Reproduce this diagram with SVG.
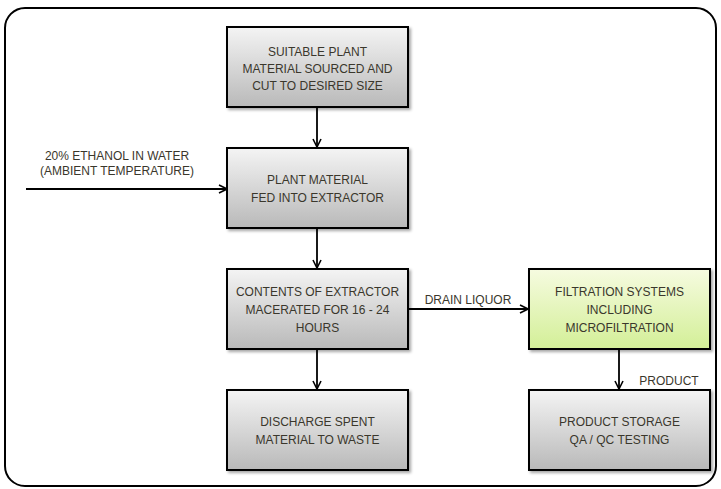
<svg xmlns="http://www.w3.org/2000/svg" width="721" height="489" viewBox="0 0 721 489">
<defs>
<linearGradient id="grey" x1="0" y1="0" x2="0" y2="1">
<stop offset="0" stop-color="#f4f4f4"/>
<stop offset="1" stop-color="#b9b9b9"/>
</linearGradient>
<linearGradient id="green" x1="0" y1="0" x2="0" y2="1">
<stop offset="0" stop-color="#f6fbe0"/>
<stop offset="1" stop-color="#d3ef97"/>
</linearGradient>
<marker id="arr" viewBox="0 0 10 10" refX="9" refY="5" markerWidth="10" markerHeight="10" markerUnits="userSpaceOnUse" orient="auto">
<path d="M1,1 L9,5 L1,9" fill="none" stroke="#000" stroke-width="1.6"/>
</marker>
<filter id="sh" x="-10%" y="-10%" width="130%" height="130%">
<feDropShadow dx="2" dy="2" stdDeviation="1.5" flood-color="#000" flood-opacity="0.35"/>
</filter>
</defs>
<style>
.box{stroke:#000;stroke-width:2;filter:url(#sh)}
.t{font-family:"Liberation Sans",Arial,sans-serif;font-size:12px;fill:#3a372c;text-anchor:middle}
.c{stroke:#000;stroke-width:1.8;fill:none;marker-end:url(#arr)}
</style>
<rect x="5" y="8" width="711" height="478" rx="20" fill="#fff" stroke="#000" stroke-width="2"/>
<g id="connectors">
<line class="c" x1="317" y1="107" x2="317" y2="147"/>
<line class="c" x1="26" y1="189" x2="227" y2="189"/>
<line class="c" x1="317" y1="228" x2="317" y2="268"/>
<line class="c" x1="408" y1="309" x2="528" y2="309"/>
<line class="c" x1="317" y1="349" x2="317" y2="389"/>
<line class="c" x1="619" y1="349" x2="619" y2="389"/>
<text class="t" x="117" y="160">20% ETHANOL IN WATER</text>
<text class="t" x="117" y="175">(AMBIENT TEMPERATURE)</text>
<text class="t" x="468" y="304">DRAIN LIQUOR</text>
<text class="t" x="669" y="385">PRODUCT</text>
</g>
<g id="n1">
<rect class="box" x="227" y="27" width="181" height="80" fill="url(#grey)"/>
<text class="t" x="317.5" y="56">SUITABLE PLANT</text>
<text class="t" x="317.5" y="73">MATERIAL SOURCED AND</text>
<text class="t" x="317.5" y="90">CUT TO DESIRED SIZE</text>
</g>
<g id="n2">
<rect class="box" x="227" y="148" width="181" height="80" fill="url(#grey)"/>
<text class="t" x="317.5" y="184">PLANT MATERIAL</text>
<text class="t" x="317.5" y="202">FED INTO EXTRACTOR</text>
</g>
<g id="n3">
<rect class="box" x="227" y="269" width="181" height="80" fill="url(#grey)"/>
<text class="t" x="317.5" y="296">CONTENTS OF EXTRACTOR</text>
<text class="t" x="317.5" y="314">MACERATED FOR 16 - 24</text>
<text class="t" x="317.5" y="332">HOURS</text>
</g>
<g id="n4">
<rect class="box" x="529" y="269" width="181" height="80" fill="url(#green)"/>
<text class="t" x="619.5" y="296">FILTRATION SYSTEMS</text>
<text class="t" x="619.5" y="314">INCLUDING</text>
<text class="t" x="619.5" y="332">MICROFILTRATION</text>
</g>
<g id="n5">
<rect class="box" x="227" y="390" width="181" height="80" fill="url(#grey)"/>
<text class="t" x="317.5" y="426">DISCHARGE SPENT</text>
<text class="t" x="317.5" y="444">MATERIAL TO WASTE</text>
</g>
<g id="n6">
<rect class="box" x="529" y="390" width="181" height="80" fill="url(#grey)"/>
<text class="t" x="619.5" y="426">PRODUCT STORAGE</text>
<text class="t" x="619.5" y="444">QA / QC TESTING</text>
</g>
</svg>
